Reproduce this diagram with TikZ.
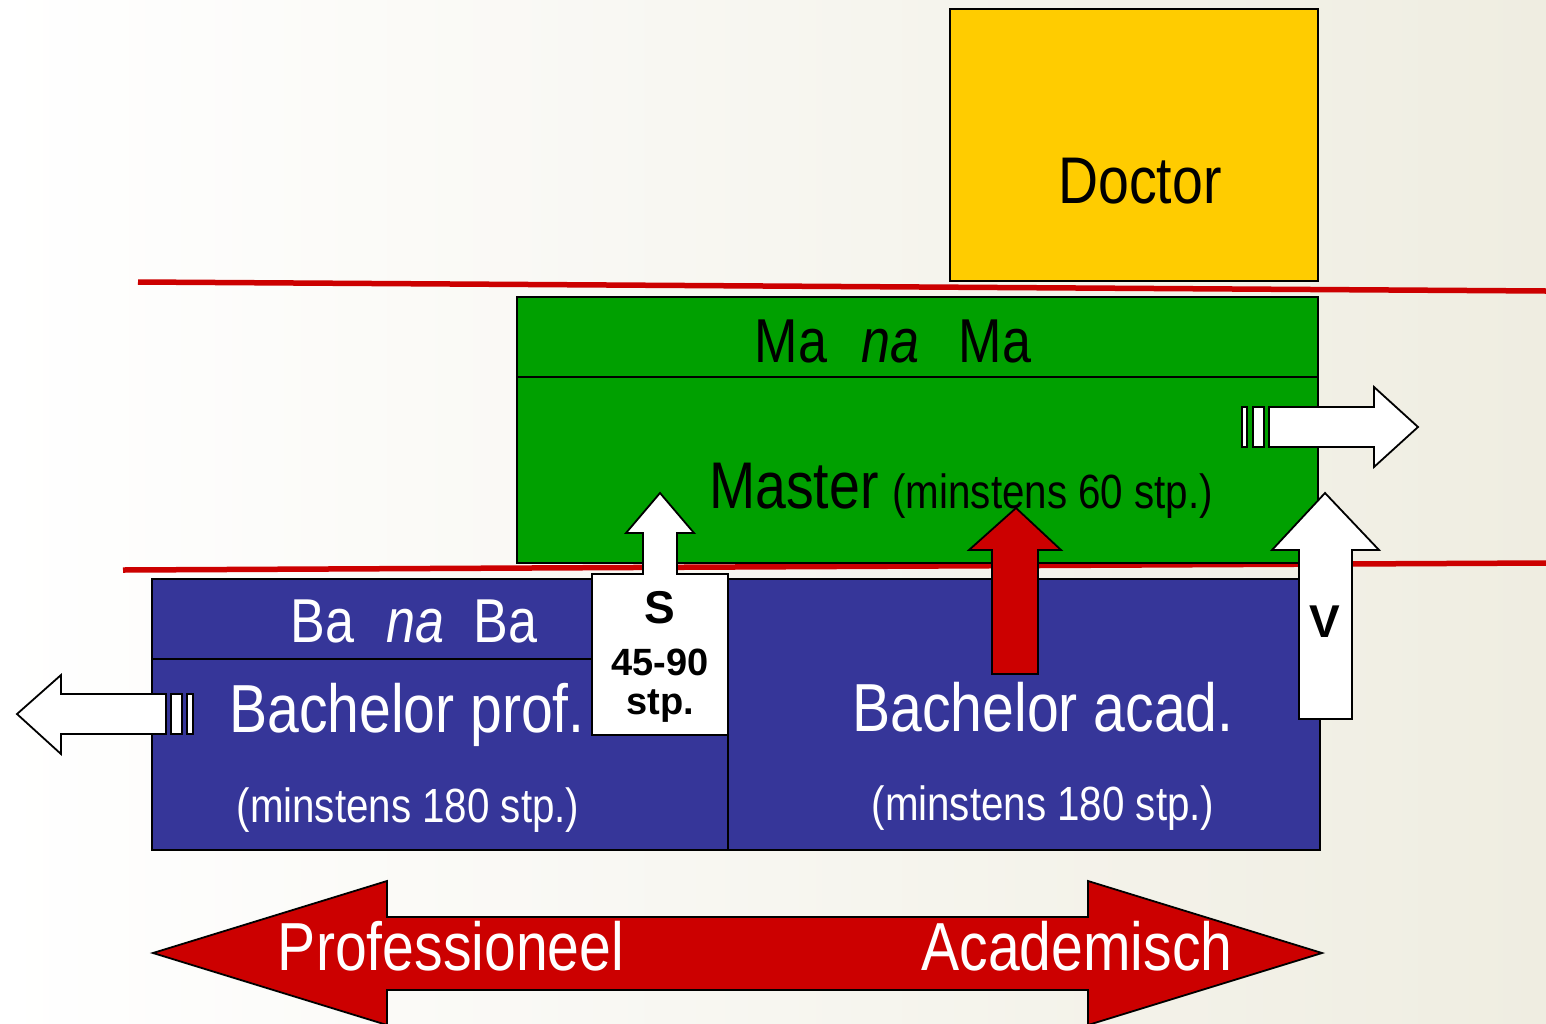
\documentclass[tikz,border=0pt]{standalone}
\usepackage{fontspec}
\newfontfamily\narrow[FakeStretch=0.84]{Liberation Sans}
\newfontfamily\arialf{Liberation Sans}
\definecolor{bgR}{RGB}{239,237,225}
\definecolor{gold}{RGB}{255,204,0}
\definecolor{mgreen}{RGB}{0,160,0}
\definecolor{mblue}{RGB}{54,54,153}
\definecolor{mred}{RGB}{204,0,0}
\tikzset{
  box/.style={draw=black, line width=1.8pt, inner sep=0pt},
  redline/.style={draw=mred, line width=5.5pt},
  whitearrow/.style={draw=black, fill=white, line width=1.8pt, line join=miter},
  redarrow/.style={draw=black, fill=mred, line width=1.8pt, line join=miter},
  big/.style={font=\narrow\fontsize{68}{70}\selectfont},
  mid/.style={font=\narrow\fontsize{62}{64}\selectfont},
  small/.style={font=\narrow\fontsize{48}{50}\selectfont},
  boldlbl/.style={font=\arialf\bfseries\fontsize{38}{40}\selectfont},
  boldbig/.style={font=\arialf\bfseries\fontsize{46}{48}\selectfont},
}
\begin{document}
\begin{tikzpicture}[x=1pt,y=-1pt]
\useasboundingbox (0,0) rectangle (1546,1023);
\clip (0,0) rectangle (1546,1023);
% background
\shade[left color=white, right color=bgR] (0,0) rectangle (1546,1023);
% red level lines
\draw[redline] (138,282) -- (1546,291);
\draw[redline] (123,570) -- (1546,563);
% Doctor
\node[box, fill=gold, minimum width=368pt, minimum height=272pt] (doctor) at (1134,145) {};
\node[anchor=base, text=black, font=\narrow\fontsize{66}{68}\selectfont] (doctorlbl) at (1140,203) {Doctor};
% Master
\node[box, fill=mgreen, minimum width=801pt, minimum height=266pt] (master) at (917.5,430) {};
\draw[line width=1.5pt] (master.west |- 0,377) -- (master.east |- 0,377);
\node[mid, anchor=base] (manama) at (893,362) {Ma\hspace{34pt}\textit{na}\hspace{40pt}Ma};
\node[anchor=base, inner sep=0pt] (masterlbl) at (961,508) {{\narrow\fontsize{66}{68}\selectfont Master}\hspace{14pt}{\narrow\fontsize{48}{50}\selectfont(minstens 60 stp.)}};
% Bachelor
\node[box, fill=mblue, minimum width=1168pt, minimum height=271pt] (bachelor) at (736,714.5) {};
\draw[line width=1.5pt] (152,659) -- (592,659);
\draw[line width=1.5pt] (728,579) -- (728,850);
\node[mid, anchor=base, text=white] (banaba) at (414,642) {Ba\hspace{32pt}\textit{na}\hspace{29pt}Ba};
\node[big, anchor=base, text=white] (bprof) at (407,732) {Bachelor prof.};
\node[small, anchor=base, text=white] (bprofmin) at (408,822) {(minstens 180 stp.)};
\node[big, anchor=base, text=white] (bacad) at (1043,731) {Bachelor acad.};
\node[small, anchor=base, text=white] (bacadmin) at (1043,820) {(minstens 180 stp.)};
% S box with arrow
\draw[whitearrow] (592,574) -- (643,574) -- (643,533) -- (626,533) -- (660,493) -- (694,533) -- (677,533) -- (677,574) -- (728,574) -- (728,735) -- (592,735) -- cycle;
\node[boldbig, anchor=base] (slbl) at (660,623) {S};
\node[boldlbl, anchor=base] (sn) at (660,675) {45-90};
\node[boldlbl, anchor=base] (sstp) at (660,714) {stp.};
% red arrow
\draw[redarrow] (992,674) -- (992,550) -- (969,550) -- (1016,508) -- (1061,550) -- (1038,550) -- (1038,674) -- cycle;
% V arrow
\draw[whitearrow] (1299,719) -- (1299,550) -- (1272,550) -- (1325,493) -- (1379,550) -- (1352,550) -- (1352,719) -- cycle;
\node[boldbig, anchor=base] (vlbl) at (1325,637) {V};
% right striped arrow
\draw[whitearrow] (1242,407) rectangle (1247,447);
\draw[whitearrow] (1253,407) rectangle (1264,447);
\draw[whitearrow] (1269,407) -- (1374,407) -- (1374,387) -- (1418,427) -- (1374,467) -- (1374,447) -- (1269,447) -- cycle;
% left striped arrow
\draw[whitearrow] (171,694) rectangle (182,734);
\draw[whitearrow] (187,694) rectangle (193,734);
\draw[whitearrow] (166,694) -- (61,694) -- (61,675) -- (17,714) -- (61,754) -- (61,734) -- (166,734) -- cycle;
% bottom double arrow
\draw[redarrow] (153,953) -- (387,881) -- (387,917) -- (1088,917) -- (1088,881) -- (1322,953) -- (1088,1025) -- (1088,990) -- (387,990) -- (387,1025) -- cycle;
\node[big, anchor=base, text=white] (prof) at (451,970) {Professioneel};
\node[big, anchor=base, text=white] (acad) at (1077,970) {Academisch};
\end{tikzpicture}
\end{document}
